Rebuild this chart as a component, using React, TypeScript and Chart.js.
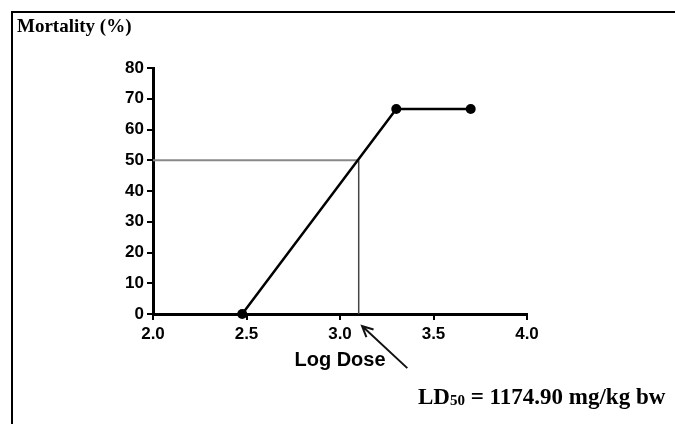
import React, { useEffect, useRef } from "react";
import { Chart, registerables } from "chart.js";

Chart.register(...registerables);

// Data (log dose vs mortality %)
const logDose: number[] = [2.477, 3.301, 3.699];
const mortality: number[] = [0, 66.67, 66.67];

// LD50 reference (interpolated log dose at 50 % mortality)
const ld50LogDose = 3.1;
const ld50Level = 50;

// Arrow pointing at the LD50 on the x axis (data units)
const arrowTip = { x: 3.118, y: -3.9 };
const arrowTail = { x: 3.36, y: -17.6 };

const xTicks = [2.0, 2.5, 3.0, 3.5, 4.0];
const yTicks = [0, 10, 20, 30, 40, 50, 60, 70, 80];

const yTitle = "Mortality (%)";
const xTitle = "Log Dose";
const ldLabelMain = "LD";
const ldLabelSub = "50";
const ldLabelRest = " = 1174.90 mg/kg bw";

const W = 675;
const H = 424;

export default function App() {
  const ref = useRef<HTMLCanvasElement | null>(null);

  useEffect(() => {
    const canvas = ref.current;
    if (!canvas) return;

    const overlay = {
      id: "overlay",
      afterDraw(chart: any) {
        const ctx = chart.ctx as CanvasRenderingContext2D;
        const xs = chart.scales.x;
        const ys = chart.scales.y;
        ctx.save();
        // frame (top + left)
        ctx.strokeStyle = "#000";
        ctx.lineWidth = 2;
        ctx.beginPath();
        ctx.moveTo(12, H);
        ctx.lineTo(12, 12);
        ctx.lineTo(W, 12);
        ctx.stroke();

        // title
        ctx.fillStyle = "#000";
        ctx.textBaseline = "alphabetic";
        ctx.textAlign = "left";
        ctx.font = "bold 19px 'Liberation Serif', 'Times New Roman', serif";
        ctx.fillText(yTitle, 17, 32);

        // arrow
        const tx = xs.getPixelForValue(arrowTip.x);
        const ty = ys.getPixelForValue(arrowTip.y);
        const sx = xs.getPixelForValue(arrowTail.x);
        const sy = ys.getPixelForValue(arrowTail.y);
        ctx.strokeStyle = "#111";
        ctx.lineWidth = 2;
        ctx.beginPath();
        ctx.moveTo(sx, sy);
        ctx.lineTo(tx, ty);
        const ang = Math.atan2(sy - ty, sx - tx);
        const hl = 12;
        const spread = 0.45;
        ctx.moveTo(tx + hl * Math.cos(ang - spread), ty + hl * Math.sin(ang - spread));
        ctx.lineTo(tx, ty);
        ctx.lineTo(tx + hl * Math.cos(ang + spread), ty + hl * Math.sin(ang + spread));
        ctx.stroke();

        // LD50 label
        let x = 418;
        const base = 404;
        ctx.fillStyle = "#000";
        ctx.font = "bold 23px 'Liberation Serif', 'Times New Roman', serif";
        ctx.fillText(ldLabelMain, x, base);
        x += ctx.measureText(ldLabelMain).width;
        ctx.font = "bold 15px 'Liberation Serif', 'Times New Roman', serif";
        ctx.fillText(ldLabelSub, x, base + 1);
        x += ctx.measureText(ldLabelSub).width;
        ctx.font = "bold 23px 'Liberation Serif', 'Times New Roman', serif";
        ctx.fillText(ldLabelRest, x, base);
        ctx.restore();
      },
    };

    const tickFont = { family: "'Liberation Sans', Arial, sans-serif", size: 17, weight: "bold" as const };

    const chart = new Chart(canvas, {
      type: "scatter",
      data: {
        datasets: [
          {
            data: logDose.map((x, i) => ({ x, y: mortality[i] })),
            showLine: true,
            borderColor: "#000",
            backgroundColor: "#000",
            borderWidth: 2.5,
            pointRadius: 5,
            pointBackgroundColor: "#000",
            pointBorderWidth: 0,
            clip: false as any,
          },
          {
            data: [
              { x: xTicks[0], y: ld50Level },
              { x: ld50LogDose, y: ld50Level },
            ],
            showLine: true,
            borderColor: "#888",
            borderWidth: 2,
            pointRadius: 0,
            clip: false as any,
          },
          {
            data: [
              { x: ld50LogDose, y: ld50Level },
              { x: ld50LogDose, y: yTicks[0] },
            ],
            showLine: true,
            borderColor: "#444",
            borderWidth: 1.5,
            pointRadius: 0,
            clip: false as any,
          },
        ],
      },
      options: {
        animation: false,
        responsive: false,
        layout: { padding: { left: 103, right: 148, top: 68, bottom: 52 } },
        plugins: {
          legend: { display: false },
          tooltip: { enabled: false },
        },
        scales: {
          x: {
            type: "linear",
            min: xTicks[0],
            max: xTicks[xTicks.length - 1],
            afterBuildTicks: (s: any) => {
              s.ticks = xTicks.map((v) => ({ value: v }));
            },
            afterFit: (s: any) => {
              s.height = 58;
            },
            ticks: {
              color: "#000",
              font: tickFont,
              padding: 4,
              maxRotation: 0,
              callback: (v: any) => Number(v).toFixed(1),
            },
            grid: {
              display: true,
              drawOnChartArea: false,
              drawTicks: true,
              tickLength: 6,
              color: "#000",
              lineWidth: 2,
            },
            border: { display: true, color: "#000", width: 3 },
            title: {
              display: true,
              text: xTitle,
              color: "#000",
              font: { family: "'Liberation Sans', Arial, sans-serif", size: 20, weight: "bold" },
              padding: { top: 4, bottom: 0 },
            },
          },
          y: {
            type: "linear",
            min: yTicks[0],
            max: yTicks[yTicks.length - 1],
            afterBuildTicks: (s: any) => {
              s.ticks = yTicks.map((v) => ({ value: v }));
            },
            afterFit: (s: any) => {
              s.width = 50;
            },
            ticks: {
              color: "#000",
              font: tickFont,
              padding: 3,
            },
            grid: {
              display: true,
              drawOnChartArea: false,
              drawTicks: true,
              tickLength: 6,
              color: "#000",
              lineWidth: 2,
            },
            border: { display: true, color: "#000", width: 3 },
          },
        },
      },
      plugins: [overlay],
    });

    return () => chart.destroy();
  }, []);

  return (
    <div style={{ position: "fixed", left: 0, top: 0, width: W, height: H, background: "#fff" }}>
      <canvas ref={ref} width={W} height={H} style={{ display: "block" }} />
    </div>
  );
}
